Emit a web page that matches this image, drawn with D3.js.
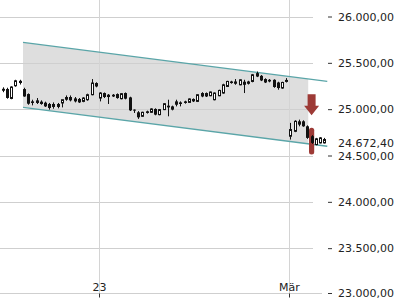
<!DOCTYPE html>
<html>
<head>
<meta charset="utf-8">
<script src="https://cdn.jsdelivr.net/npm/d3@7"></script>
<style>
  html, body { margin: 0; padding: 0; background: #fff; }
  svg { display: block; font-family: 'DejaVu Sans', sans-serif; }
  .tick-label { font-size: 11px; fill: #222; }
</style>
</head>
<body>
<svg id="chart" width="400" height="300"></svg>
<script>
// hourly candles, index 0..76
const opens = [
  25220, 25217, 25116, 25253, 25306, 25217, 25163, 25084, 25095, 25081,
  25070, 25056, 25056, 25056, 25067, 25131, 25131, 25116, 25110, 25084,
  25102, 25156, 25282, 25120, 25174, 25156, 25156, 25163, 25113, 25174,
  25127, 24995, 24966, 24923, 24977, 24966, 25002, 24941, 24995, 25038,
  25030, 25084, 25073, 25084, 25073, 25110, 25084, 25174, 25174, 25145,
  25102, 25145, 25174, 25245, 25299, 25299, 25263, 25296, 25299, 25299,
  25389, 25360, 25325, 25317, 25317, 25288, 25228, 25306, 24708, 24761,
  24869, 24869, 24815, 24708, 24618, 24636, 24636,
];
const highs = [
  25236, 25231, 25247, 25317, 25317, 25231, 25170, 25102, 25120, 25095,
  25081, 25067, 25073, 25067, 25102, 25148, 25148, 25131, 25120, 25129,
  25167, 25325, 25290, 25183, 25180, 25163, 25163, 25170, 25174, 25180,
  25134, 24997, 24979, 24972, 24984, 25009, 25009, 25002, 25065, 25102,
  25038, 25102, 25084, 25091, 25116, 25116, 25160, 25183, 25180, 25190,
  25180, 25210, 25274, 25306, 25306, 25325, 25322, 25317, 25306, 25380,
  25406, 25368, 25333, 25325, 25322, 25296, 25296, 25335, 24852, 24880,
  24887, 24880, 24825, 24720, 24690, 24698, 24690,
];
const lows = [
  25183, 25113, 25107, 25242, 25266, 25134, 25048, 25041, 25056, 25048,
  25024, 24995, 25005, 25009, 25019, 25091, 25084, 25073, 25067, 25075,
  25091, 25150, 25236, 25084, 25120, 25056, 25131, 25113, 25106, 25106,
  24980, 24959, 24895, 24916, 24952, 24959, 24934, 24934, 24990, 24923,
  24987, 25030, 25030, 25059, 25067, 25077, 25077, 25129, 25131, 25140,
  25095, 25140, 25167, 25240, 25275, 25263, 25258, 25174, 25266, 25290,
  25346, 25303, 25282, 25290, 25231, 25210, 25220, 25288, 24672, 24752,
  24815, 24810, 24680, 24625, 24610, 24630, 24630,
];
const closes = [
  25199, 25121, 25239, 25306, 25282, 25137, 25059, 25067, 25067, 25056,
  25030, 25013, 25024, 25024, 25102, 25102, 25095, 25084, 25073, 25120,
  25156, 25282, 25245, 25174, 25131, 25131, 25137, 25120, 25167, 25113,
  24987, 24987, 24912, 24966, 24959, 25002, 24941, 24995, 25059, 25019,
  24995, 25048, 25056, 25067, 25110, 25084, 25156, 25137, 25137, 25185,
  25174, 25202, 25263, 25299, 25282, 25274, 25317, 25263, 25274, 25371,
  25352, 25310, 25288, 25299, 25239, 25228, 25288, 25310, 24780, 24869,
  24833, 24815, 24690, 24636, 24680, 24690, 24672.4,
];

// x-axis labels: candle index -> text
const xTickIndex = [23, 68];
const xTickLabels = ['23', 'Mär'];
const yTicks = [26000, 25500, 25000, 24500, 24000, 23500, 23000];

// trend channel (index, upper, lower)
const channelIdx = [4.8, 76.7];
const channelUpper = [25720, 25300];
const channelLower = [25020, 24600];
const channelFillEnd = 72.2;

// sell signal on candle 73
const signalIdx = 73;
const signalArrow = [25160, 24935];
const signalBar = [24800, 24510];

const lastValue = closes[closes.length - 1];

const deFormat = d3.formatLocale({
  decimal: ',', thousands: '.', grouping: [3], currency: ['', ' €'],
}).format(',.2f');

const dim = {
  plotRight: 313,
  axisX: 328,
  bottom: 293.5,
};

const x = d3.scaleLinear().domain([0, opens.length - 1]).range([2.7, 324.3]);
const y = d3.scaleLinear().domain([23000, 26000]).range([294.5, 16.5]);

const svg = d3.select('#chart');

const candles = d3.zip(opens, highs, lows, closes)
  .map(([o, h, l, c], i) => ({ i, o, h, l, c }));

// grid
const grid = svg.append('g').attr('id', 'grid');
grid.selectAll('line.h')
  .data(yTicks.filter((t) => t > 23000))
  .enter()
  .append('line')
  .attr('class', 'h')
  .attr('x1', 0)
  .attr('x2', dim.plotRight)
  .attr('y1', (d) => Math.round(y(d)) + 0.5)
  .attr('y2', (d) => Math.round(y(d)) + 0.5)
  .style('stroke', '#cfcfcf');

grid.selectAll('line.v')
  .data(xTickIndex)
  .enter()
  .append('line')
  .attr('class', 'v')
  .attr('x1', (d) => Math.round(x(d)) - 0.5)
  .attr('x2', (d) => Math.round(x(d)) - 0.5)
  .attr('y1', 0)
  .attr('y2', dim.bottom)
  .style('stroke', '#d4d4d4');

// channel
const lerp = (arr, t) => arr[0] + (arr[1] - arr[0]) * ((t - channelIdx[0]) / (channelIdx[1] - channelIdx[0]));
const fillPts = [
  [channelIdx[0], channelUpper[0]],
  [channelFillEnd, lerp(channelUpper, channelFillEnd)],
  [channelFillEnd, lerp(channelLower, channelFillEnd)],
  [channelIdx[0], channelLower[0]],
];
svg.insert('path', '#grid')
  .attr('d', d3.line().x((d) => x(d[0])).y((d) => y(d[1]))(fillPts) + 'Z')
  .style('fill', '#dedede');

[channelUpper, channelLower].forEach((vals) => {
  svg.append('line')
    .attr('x1', x(channelIdx[0]))
    .attr('x2', x(channelIdx[1]))
    .attr('y1', y(vals[0]))
    .attr('y2', y(vals[1]))
    .style('stroke', '#5aa5a8')
    .style('stroke-width', 1.3);
});

// signal bar behind candle
const barX = x(signalIdx);
svg.append('rect')
  .attr('x', barX - 2.6)
  .attr('width', 5.2)
  .attr('y', y(signalBar[0]))
  .attr('height', y(signalBar[1]) - y(signalBar[0]))
  .attr('rx', 2.5)
  .style('fill', '#9d3a36');

// candles
const bodyW = 3;
const g = svg.append('g').attr('id', 'candles');
const c = g.selectAll('g')
  .data(candles)
  .enter()
  .append('g')
  .style('transform', (d) => `translate(${Math.round(x(d.i))}px, 0)`);

c.append('line')
  .attr('x1', 0.5)
  .attr('x2', 0.5)
  .attr('y1', (d) => y(d.h))
  .attr('y2', (d) => y(d.l))
  .style('stroke', '#111');

c.append('rect')
  .attr('x', (d) => (d.c >= d.o ? -0.5 : -1))
  .attr('width', (d) => (d.c >= d.o ? bodyW - 1 : bodyW))
  .attr('y', (d) => y(Math.max(d.o, d.c)))
  .attr('height', (d) => Math.max(1, Math.abs(y(d.o) - y(d.c))))
  .style('fill', (d) => (d.c >= d.o ? '#fff' : '#111'))
  .style('stroke', (d) => (d.c >= d.o ? '#111' : 'none'))
  .style('stroke-width', 1);

// down arrow
const aTop = y(signalArrow[0]);
const aBot = y(signalArrow[1]);
const neck = aTop + (aBot - aTop) * 0.55;
svg.append('path')
  .attr('d', `M${barX - 4},${aTop} L${barX + 4},${aTop} L${barX + 4},${neck} L${barX + 7.5},${neck}
    L${barX},${aBot} L${barX - 7.5},${neck} L${barX - 4},${neck} Z`)
  .style('fill', '#9d3a36');

// bottom axis
svg.append('line')
  .attr('x1', 0)
  .attr('x2', 322)
  .attr('y1', dim.bottom)
  .attr('y2', dim.bottom)
  .style('stroke', '#cfcfcf');

const xAxis = svg.append('g');
xTickIndex.forEach((idx, k) => {
  const px = Math.round(x(idx)) - 0.5;
  xAxis.append('line')
    .attr('x1', px).attr('x2', px)
    .attr('y1', dim.bottom).attr('y2', dim.bottom + 4)
    .style('stroke', '#333');
  xAxis.append('text')
    .attr('class', 'tick-label')
    .attr('x', px)
    .attr('y', dim.bottom - 3)
    .style('text-anchor', 'middle')
    .text(xTickLabels[k]);
});

// right axis
const yAxis = svg.append('g')
  .style('transform', `translate(${dim.axisX}px, 0)`)
  .call(d3.axisRight(y).tickValues(yTicks).tickSize(4).tickPadding(6).tickFormat(deFormat));
yAxis.select('.domain').remove();
yAxis.selectAll('.tick line').style('stroke', '#333');
yAxis.selectAll('.tick text')
  .attr('class', 'tick-label')
  .style('font-size', '11px')
  .style('font-family', 'DejaVu Sans, sans-serif');
yAxis.selectAll('.tick')
  .filter((d) => d === 23000)
  .style('transform', `translate(0, ${dim.bottom}px)`);

// current value label, kept just above the 24.500 tick label
svg.append('text')
  .attr('class', 'tick-label')
  .attr('x', dim.axisX + 10)
  .attr('y', y(lastValue) + 7)
  .text(deFormat(lastValue));
</script>
</body>
</html>
